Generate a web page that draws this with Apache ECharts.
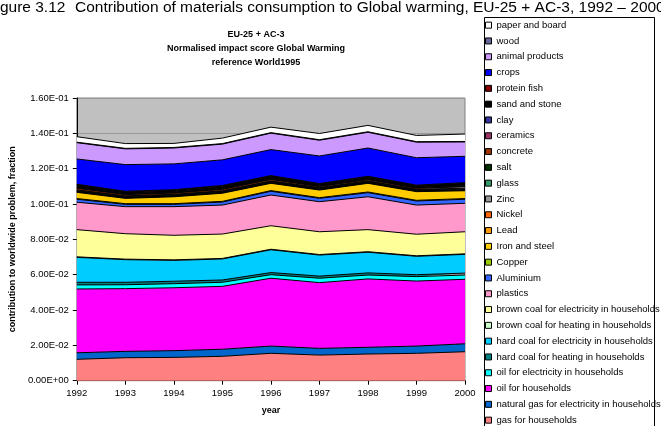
<!DOCTYPE html>
<html>
<head>
<meta charset="utf-8">
<script src="https://cdn.jsdelivr.net/npm/echarts@6/dist/echarts.min.js"></script>
<style>
  html, body { margin: 0; padding: 0; background: #fff; }
  #chart { width: 661px; height: 426px; }
</style>
</head>
<body>
<div id="chart"></div>
<script>
const years = ['1992', '1993', '1994', '1995', '1996', '1997', '1998', '1999', '2000']
const yTickLabels = ['0.00E+00', '2.00E-02', '4.00E-02', '6.00E-02', '8.00E-02', '1.00E-01', '1.20E-01', '1.40E-01', '1.60E-01']

// stack layers, bottom to top
const gasHouseholds   = [0.0121, 0.0130, 0.0132, 0.0138, 0.0155, 0.0145, 0.0151, 0.0155, 0.0164]
const naturalGasElec  = [0.0037, 0.0036, 0.0038, 0.0040, 0.0041, 0.0038, 0.0038, 0.0041, 0.0045]
const oilHouseholds   = [0.0361, 0.0355, 0.0356, 0.0356, 0.0384, 0.0372, 0.0387, 0.0368, 0.0365]
const oilElec         = [0.0023, 0.0022, 0.0023, 0.0023, 0.0020, 0.0025, 0.0022, 0.0025, 0.0024]
const hardCoalHeat    = [0.0015, 0.0014, 0.0014, 0.0013, 0.0012, 0.0012, 0.0012, 0.0011, 0.0011]
const hardCoalElec    = [0.0141, 0.0128, 0.0118, 0.0119, 0.0129, 0.0119, 0.0117, 0.0104, 0.0106]
const brownCoalHeat   = [0.0003, 0.0003, 0.0003, 0.0003, 0.0003, 0.0003, 0.0003, 0.0003, 0.0003]
const brownCoalElec   = [0.0154, 0.0144, 0.0139, 0.0138, 0.0133, 0.0129, 0.0125, 0.0122, 0.0125]
const plastics        = [0.0155, 0.0153, 0.0162, 0.0164, 0.0174, 0.0170, 0.0186, 0.0165, 0.0161]
const aluminium       = [0.0017, 0.0013, 0.0013, 0.0017, 0.0021, 0.0019, 0.0023, 0.0023, 0.0023]
const copper          = [0.0004, 0.0004, 0.0004, 0.0004, 0.0004, 0.0004, 0.0004, 0.0004, 0.0004]
const ironSteel       = [0.0035, 0.0030, 0.0039, 0.0046, 0.0041, 0.0043, 0.0049, 0.0049, 0.0044]
const lead            = [0.0003, 0.0003, 0.0003, 0.0003, 0.0003, 0.0003, 0.0003, 0.0003, 0.0003]
const nickel          = [0.0001, 0.0001, 0.0001, 0.0001, 0.0001, 0.0001, 0.0001, 0.0001, 0.0001]
const zinc            = [0.0002, 0.0002, 0.0002, 0.0002, 0.0002, 0.0002, 0.0002, 0.0002, 0.0002]
const glass           = [0.0004, 0.0004, 0.0004, 0.0004, 0.0004, 0.0004, 0.0004, 0.0004, 0.0004]
const salt            = [0.0004, 0.0004, 0.0004, 0.0004, 0.0004, 0.0004, 0.0004, 0.0004, 0.0004]
const concrete        = [0.0009, 0.0007, 0.0007, 0.0008, 0.0008, 0.0006, 0.0007, 0.0006, 0.0008]
const ceramics        = [0.0003, 0.0003, 0.0003, 0.0003, 0.0003, 0.0003, 0.0003, 0.0003, 0.0003]
const clay            = [0.0003, 0.0003, 0.0003, 0.0003, 0.0003, 0.0003, 0.0003, 0.0003, 0.0003]
const sandStone       = [0.0013, 0.0009, 0.0009, 0.0012, 0.0012, 0.0007, 0.0009, 0.0007, 0.0014]
const proteinFish     = [0.0004, 0.0004, 0.0004, 0.0004, 0.0004, 0.0004, 0.0004, 0.0004, 0.0004]
const crops           = [0.0143, 0.0151, 0.0146, 0.0145, 0.0147, 0.0156, 0.0160, 0.0155, 0.0149]
const animalProducts  = [0.0092, 0.0089, 0.0090, 0.0089, 0.0093, 0.0089, 0.0089, 0.0088, 0.0081]
const wood            = [0.0003, 0.0003, 0.0003, 0.0003, 0.0003, 0.0003, 0.0003, 0.0003, 0.0003]
const paperBoard      = [0.0031, 0.0027, 0.0023, 0.0031, 0.0031, 0.0035, 0.0036, 0.0035, 0.0042]

const layers = [
  ['gas for households', gasHouseholds, '#FF8080'],
  ['natural gas for electricity in households', naturalGasElec, '#0066CC'],
  ['oil for households', oilHouseholds, '#FF00FF'],
  ['oil for electricity in households', oilElec, '#00FFFF'],
  ['hard coal for heating in households', hardCoalHeat, '#008080'],
  ['hard coal for electricity in households', hardCoalElec, '#00CCFF'],
  ['brown coal for heating in households', brownCoalHeat, '#CCFFCC'],
  ['brown coal for electricity in households', brownCoalElec, '#FFFF99'],
  ['plastics', plastics, '#FF99CC'],
  ['Aluminium', aluminium, '#3366FF'],
  ['Copper', copper, '#99CC00'],
  ['Iron and steel', ironSteel, '#FFCC00'],
  ['Lead', lead, '#FF9900'],
  ['Nickel', nickel, '#FF6600'],
  ['Zinc', zinc, '#969696'],
  ['glass', glass, '#339966'],
  ['salt', salt, '#003300'],
  ['concrete', concrete, '#993300'],
  ['ceramics', ceramics, '#993366'],
  ['clay', clay, '#333399'],
  ['sand and stone', sandStone, '#000000'],
  ['protein fish', proteinFish, '#800000'],
  ['crops', crops, '#0000FF'],
  ['animal products', animalProducts, '#CC99FF'],
  ['wood', wood, '#666699'],
  ['paper and board', paperBoard, '#FFFFFF']
]

const chart = echarts.init(document.getElementById('chart'))
const font = 'Liberation Sans, Arial, sans-serif'

const option = {
  animation: false,
  textStyle: { fontFamily: font },
  graphic: [
    {
      type: 'rect', z: -1,
      shape: { x: 484.5, y: 17.5, width: 170, height: 420 },
      style: { fill: '#fff', stroke: '#000', lineWidth: 1 }
    },
    {
      type: 'text', left: -13, top: 0,
      style: { text: 'Figure 3.12', fontSize: 15.5, fontFamily: font, fill: '#000' }
    },
    {
      type: 'text', left: 75, top: 0,
      style: { text: 'Contribution of materials consumption to Global warming, EU-25 + AC-3, 1992 \u2013 2000', fontSize: 15.5, fontFamily: font, fill: '#000' }
    },
    {
      type: 'text', x: 256, y: 27,
      style: {
        text: 'EU-25 + AC-3\nNormalised impact score Global Warming\nreference World1995',
        fontSize: 9, fontWeight: 'bold', lineHeight: 14.3, align: 'center',
        fontFamily: font, fill: '#000'
      }
    }
  ],
  legend: {
    orient: 'vertical',
    left: 485,
    top: 20,
    padding: 0,
    itemWidth: 6,
    itemHeight: 6,
    itemGap: 5.5,
    icon: 'rect',
    selectedMode: false,
    itemStyle: { borderColor: '#000', borderWidth: 1 },
    textStyle: { fontSize: 9.5, lineHeight: 10.3, color: '#000', fontFamily: font },
    data: layers.map(l => l[0]).reverse()
  },
  grid: {
    left: 62, right: 196, top: 98, bottom: 45.3,
    show: true, backgroundColor: '#C0C0C0', borderColor: '#808080', borderWidth: 1
  },
  xAxis: {
    type: 'category',
    data: years,
    boundaryGap: false,
    name: 'year',
    nameLocation: 'middle',
    nameGap: 25,
    nameTextStyle: { fontSize: 9, fontWeight: 'bold', color: '#000' },
    axisLine: { lineStyle: { color: '#000', width: 1 } },
    axisTick: { show: true, length: 4, lineStyle: { color: '#000' } },
    axisLabel: { fontSize: 9.5, color: '#000', margin: 8 },
    splitLine: { show: false }
  },
  yAxis: {
    type: 'value',
    min: 0,
    max: 0.16,
    interval: 0.02,
    name: 'contribution to worldwide problem, fraction',
    nameLocation: 'middle',
    nameGap: 51,
    nameTextStyle: { fontSize: 9, fontWeight: 'bold', color: '#000' },
    axisLine: { show: true, lineStyle: { color: '#000', width: 1 } },
    axisTick: { show: true, length: 4, lineStyle: { color: '#000' } },
    axisLabel: {
      fontSize: 9.5, color: '#000', margin: 8,
      formatter: v => yTickLabels[Math.round(v / 0.02)]
    },
    splitLine: { show: true, lineStyle: { color: '#999', width: 1 } }
  },
  series: layers.map(([name, data, color]) => ({
    name: name,
    type: 'line',
    stack: 'total',
    data: data,
    color: color,
    showSymbol: false,
    symbol: 'none',
    lineStyle: { color: '#000', width: 1 },
    areaStyle: { color: color, opacity: 1 }
  }))
}

chart.setOption(option)
</script>
</body>
</html>
